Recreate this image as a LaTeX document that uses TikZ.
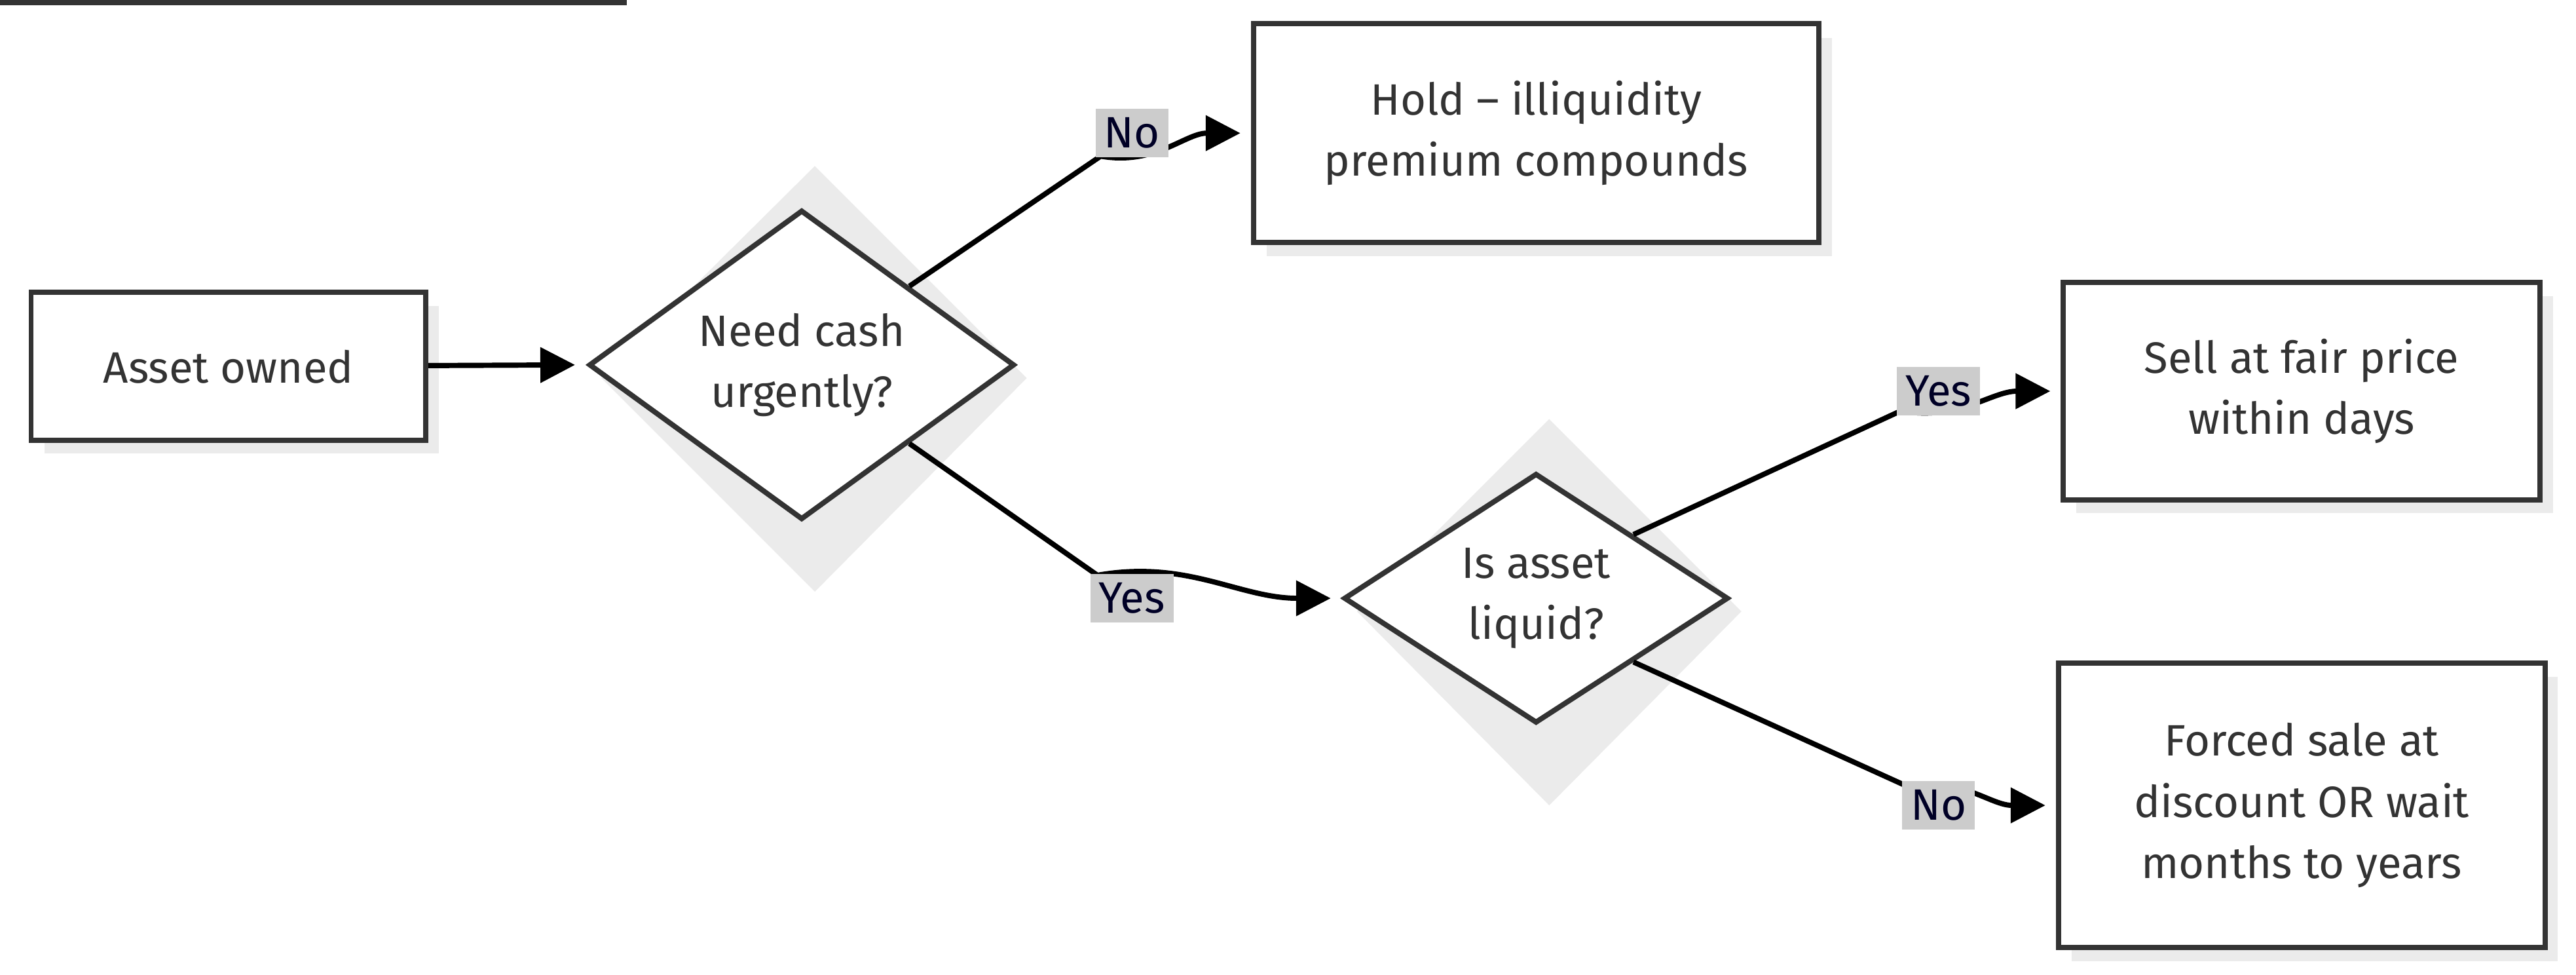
\documentclass[tikz,border=0pt]{standalone}
\usepackage{fontspec}
\setmainfont{Fira Sans}
\usetikzlibrary{arrows.meta,shapes.geometric}

\begin{document}
\begin{tikzpicture}[x=0.01cm, y=-0.01cm, font=\fontsize{7.6}{10.6}\selectfont\color{black!80},
    box/.style={draw=black!80, line width=0.9pt, fill=white, align=center, inner sep=0pt},
    shadow/.style={fill=black!8, draw=none},
    lbl/.style={fill=black!20, inner sep=1.5pt, text=black!85!blue},
    link/.style={line width=0.9pt, -{Triangle[length=6pt,width=6pt]}}]
    \useasboundingbox (0,0) rectangle (1568,593);

    % shadows
    \fill[shadow] (27,186) rectangle (267,276);
    \fill[shadow] (771,23) rectangle (1115,156);
    \fill[shadow] (1264,180) rectangle (1554,312);
    \fill[shadow] (1261,412) rectangle (1557,585);
    \fill[shadow] (496,101) -- (625,230) -- (496,360) -- (366,230) -- cycle;
    \fill[shadow] (943,255) -- (1060,372) -- (943,490) -- (826,372) -- cycle;

    \node[box, minimum width=240\pgflinewidth, text width=0pt] at (0,0) {};
    \node[box, minimum width=2.40cm, minimum height=0.90cm] (owned) at (139,223) {Asset owned};
    \node[box, diamond, aspect=1, minimum width=2.59cm] (cash) at (488,222) {Need cash\\urgently?};
    \node[box, minimum width=3.44cm, minimum height=1.33cm] (hold) at (935,81) {Hold -- illiquidity\\premium compounds};
    \node[box, diamond, aspect=1, minimum width=2.34cm] (liquid) at (935,364) {Is asset\\liquid?};
    \node[box, minimum width=2.90cm, minimum height=1.32cm] (sell) at (1401,238) {Sell at fair price\\within days};
    \node[box, minimum width=2.96cm, minimum height=1.73cm] (forced) at (1401,490) {Forced sale at\\discount OR wait\\months to years};

    \coordinate (b1) at (670,95);
    \coordinate (b2) at (668,350);
    \coordinate (b3) at (1157,250);
    \coordinate (b4) at (1160,478);

    \draw[link] (owned) -- (350,222);
    \draw[link] (cash.north east) -- (b1) to[out=-10,in=180] (hold.west -| 755,81);
    \draw[link] (cash.south east) -- (b2) to[out=10,in=180] (810,364);
    \draw[link] (liquid.north east) -- (b3) to[out=-10,in=180] (1248,238);
    \draw[link] (liquid.south east) -- (b4) to[out=10,in=180] (1245,490);

    \node[lbl] at (689,81) {No};
    \node[lbl] at (689,364) {Yes};
    \node[lbl] at (1180,238) {Yes};
    \node[lbl] at (1180,490) {No};
\end{tikzpicture}
\end{document}
